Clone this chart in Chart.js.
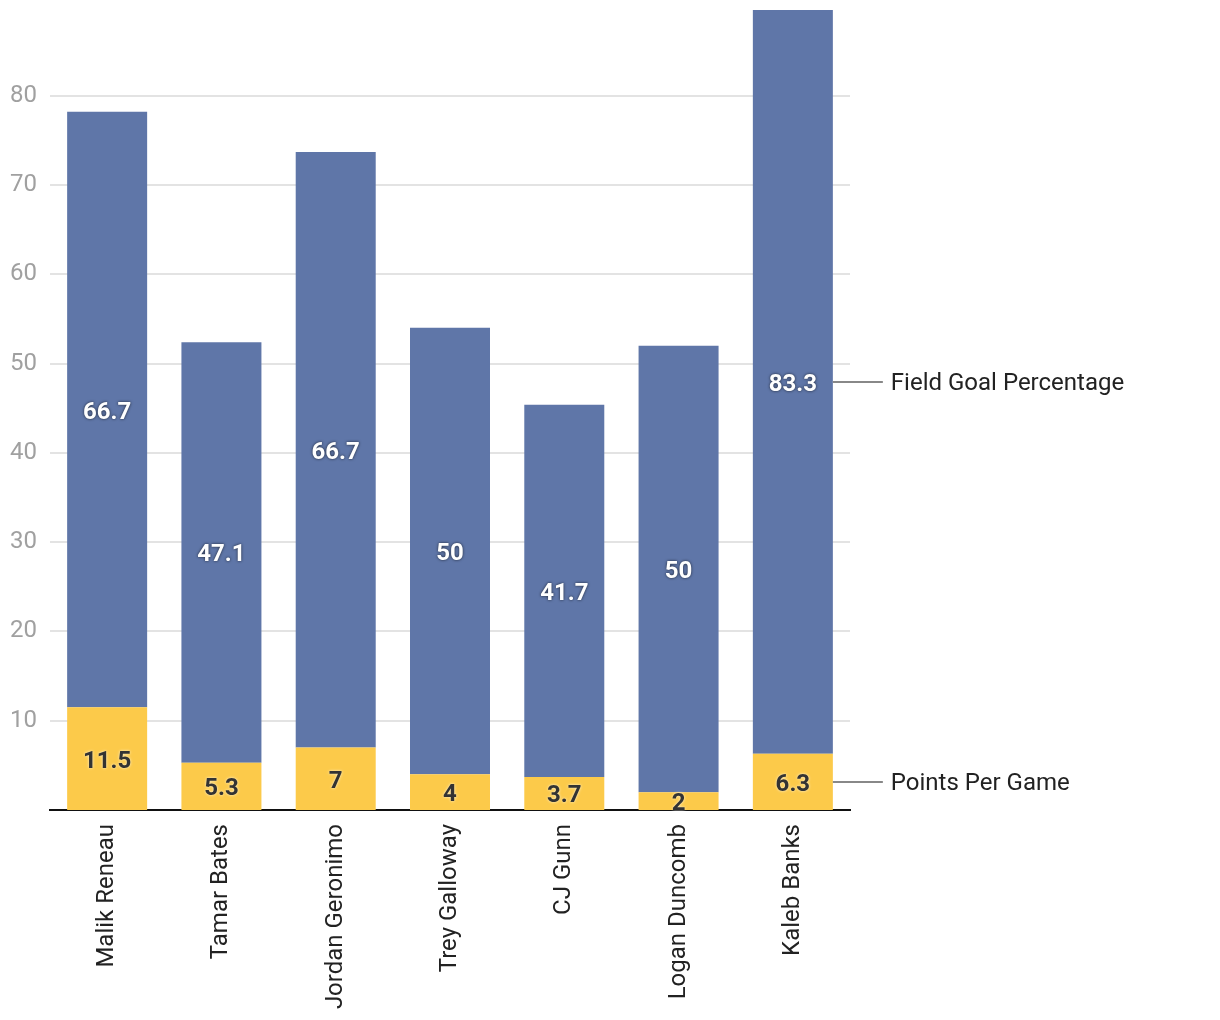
<!DOCTYPE html>
<html>
<head>
<meta charset="utf-8">
<script src="https://cdn.jsdelivr.net/npm/chart.js@4/dist/chart.umd.min.js"></script>
<style>
  html, body { margin: 0; padding: 0; background: #fff; }
  #wrap { width: 1220px; height: 1020px; position: relative; }
</style>
</head>
<body>
<div id="wrap"><canvas id="c"></canvas></div>
<script>
const players = ["Malik Reneau", "Tamar Bates", "Jordan Geronimo", "Trey Galloway", "CJ Gunn", "Logan Duncomb", "Kaleb Banks"];
const pointsPerGame = [11.5, 5.3, 7, 4, 3.7, 2, 6.3];
const fieldGoalPct = [66.7, 47.1, 66.7, 50, 41.7, 50, 83.3];
const seriesNames = ["Points Per Game", "Field Goal Percentage"];
const yTicks = [10, 20, 30, 40, 50, 60, 70, 80];

const FONT = "Roboto";
const FS = 24;

const labelPlugin = {
  id: "labels",
  afterDatasetsDraw(chart) {
    const ctx = chart.ctx;
    ctx.save();
    chart.data.datasets.forEach((ds, di) => {
      const meta = chart.getDatasetMeta(di);
      meta.data.forEach((el, i) => {
        const v = ds.data[i];
        const cy = (el.y + el.base) / 2;
        ctx.font = "bold " + FS + "px " + FONT;
        ctx.textAlign = "center";
        ctx.textBaseline = "middle";
        if (di === 0) {
          ctx.shadowColor = "rgba(255,255,255,0.8)";
          ctx.fillStyle = "#333333";
        } else {
          ctx.shadowColor = "rgba(0,0,0,0.7)";
          ctx.fillStyle = "#ffffff";
        }
        ctx.shadowBlur = 3;
        ctx.fillText(String(v), el.x, cy + 3);
      });
    });
    ctx.restore();
  },
  afterDraw(chart) {
    const ctx = chart.ctx;
    ctx.save();
    chart.data.datasets.forEach((ds, di) => {
      const meta = chart.getDatasetMeta(di);
      const el = meta.data[meta.data.length - 1];
      const cy = Math.round((el.y + el.base) / 2);
      const x0 = el.x + el.width / 2;
      ctx.strokeStyle = "#888888";
      ctx.lineWidth = 2;
      ctx.beginPath();
      ctx.moveTo(x0, cy);
      ctx.lineTo(x0 + 50, cy);
      ctx.stroke();
      ctx.font = FS + "px " + FONT;
      ctx.fillStyle = "#222222";
      ctx.textAlign = "left";
      ctx.textBaseline = "middle";
      ctx.fillText(ds.label, x0 + 58, cy + 2);
    });
    ctx.restore();
  }
};

new Chart(document.getElementById("c"), {
  type: "bar",
  data: {
    labels: players,
    datasets: [
      { label: seriesNames[0], data: pointsPerGame, backgroundColor: "#fcca4a" },
      { label: seriesNames[1], data: fieldGoalPct, backgroundColor: "#5f76a8" }
    ]
  },
  options: {
    responsive: true,
    maintainAspectRatio: false,
    animation: false,
    categoryPercentage: 0.7,
    barPercentage: 1,
    layout: { padding: { top: 10, right: 370, left: 0, bottom: 0 } },
    plugins: { legend: { display: false }, tooltip: { enabled: false } },
    scales: {
      x: {
        stacked: true,
        grid: { display: false, drawTicks: false },
        border: { display: true, color: "#111111", width: 2 },
        ticks: {
          minRotation: 90, maxRotation: 90, autoSkip: false, padding: 14,
          color: "#222222", font: { family: FONT, size: FS }
        },
        afterFit(s) { s.height = 210; s.paddingLeft = 0; s.paddingRight = 0; }
      },
      y: {
        stacked: true,
        min: 0,
        max: 89.6,
        grid: { color: "#e3e3e3", lineWidth: 2, drawTicks: false },
        border: { display: false },
        ticks: {
          stepSize: 10, padding: 13,
          color: "#a0a0a0", font: { family: FONT, size: FS }
        },
        afterBuildTicks(s) { s.ticks = yTicks.map(v => ({ value: v })); },
        afterFit(s) { s.width = 50; s.paddingTop = 0; s.paddingBottom = 0; }
      }
    }
  },
  plugins: [labelPlugin]
});
</script>
</body>
</html>
